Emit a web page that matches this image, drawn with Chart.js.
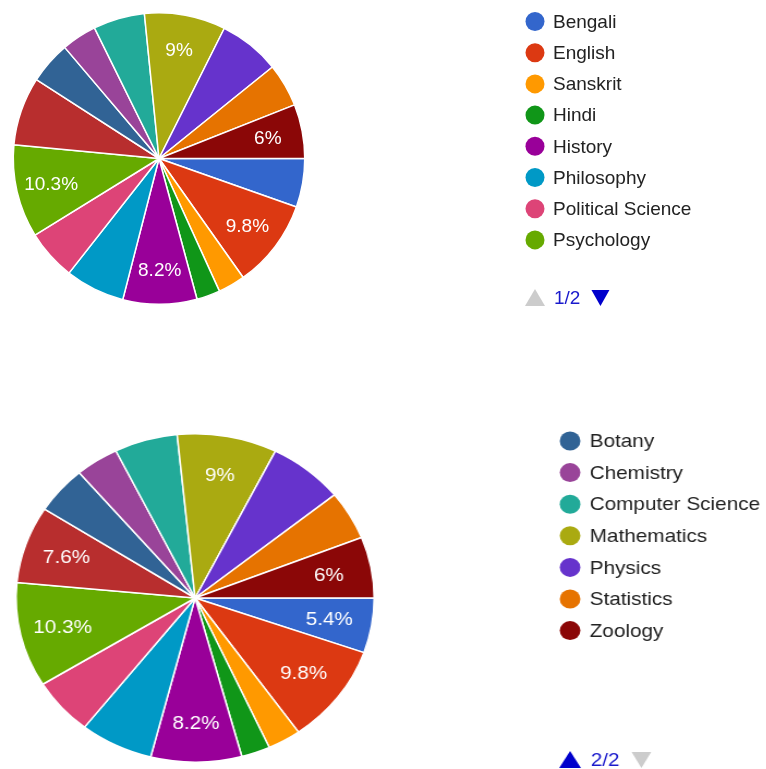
<!DOCTYPE html>
<html>
<head>
<meta charset="utf-8">
<script src="https://cdn.jsdelivr.net/npm/chart.js@4.4.1/dist/chart.umd.min.js"></script>
<style>
  html, body { margin: 0; padding: 0; background: #fff; }
  body { width: 766px; height: 769px; position: relative; overflow: hidden; }
  #top-chart { position: absolute; left: 0; top: 0; }
  #bottom-wrap { position: absolute; left: 0; top: 400px; width: 703px; height: 369px;
                 transform: scaleX(1.09); transform-origin: 0 0; }
</style>
</head>
<body>
<canvas id="top-chart" width="766" height="400"></canvas>
<div id="bottom-wrap"><canvas id="bottom-chart" width="703" height="369"></canvas></div>
<script>
// subjects, clockwise from 3 o'clock (the 9th slice has no legend entry)
const subjects = [
  'Bengali', 'English', 'Sanskrit', 'Hindi', 'History', 'Philosophy',
  'Political Science', 'Psychology', '', 'Botany', 'Chemistry',
  'Computer Science', 'Mathematics', 'Physics', 'Statistics', 'Zoology'
];
const shares = [5.4, 9.8, 3.0, 2.6, 8.2, 6.6, 5.6, 10.3, 7.6, 4.7, 3.9, 5.7, 9.0, 6.8, 4.8, 6.0];
const sliceColors = [
  '#3366cc', '#dc3912', '#ff9900', '#109618', '#990099', '#0099c6', '#dd4477', '#66aa00',
  '#b82e2e', '#316395', '#994499', '#22aa99', '#aaaa11', '#6633cc', '#e67300', '#8b0707'
];
const legendPage1 = [0, 1, 2, 3, 4, 5, 6, 7];
const legendPage2 = [9, 10, 11, 12, 13, 14, 15];
// slices that carry a percentage label in each chart
const labelledTop = ['English', 'History', 'Psychology', 'Mathematics', 'Zoology'];
const labelledBottom = ['Bengali', 'English', 'History', 'Psychology', '', 'Mathematics', 'Zoology'];

const FONT = '"Liberation Sans", Arial, sans-serif';

const sliceLabels = {
  id: 'sliceLabels',
  afterDatasetsDraw(chart, args, opts) {
    const ctx = chart.ctx;
    const data = chart.data.datasets[0].data;
    const total = data.reduce((a, b) => a + b, 0);
    ctx.save();
    ctx.font = '19px ' + FONT;
    ctx.fillStyle = '#ffffff';
    ctx.textAlign = 'center';
    ctx.textBaseline = 'middle';
    chart.getDatasetMeta(0).data.forEach((arc, i) => {
      if (!opts.show.includes(chart.data.labels[i])) return;
      const p = arc.getProps(['x', 'y', 'startAngle', 'endAngle', 'outerRadius'], true);
      const mid = (p.startAngle + p.endAngle) / 2;
      const r = p.outerRadius * 0.76;
      const pct = +(data[i] / total * 100).toFixed(1);
      ctx.fillText(pct + '%', p.x + Math.cos(mid) * r, p.y + Math.sin(mid) * r + 1);
    });
    ctx.restore();
  }
};

const pagedLegend = {
  id: 'pagedLegend',
  afterDraw(chart, args, opts) {
    const ctx = chart.ctx;
    const colors = chart.data.datasets[0].backgroundColor;
    ctx.save();
    ctx.font = '19px ' + FONT;
    ctx.textBaseline = 'middle';
    opts.items.forEach((idx, i) => {
      const y = opts.top + i * opts.step;
      ctx.fillStyle = colors[idx];
      ctx.beginPath();
      ctx.arc(opts.x, y, 9.5, 0, Math.PI * 2);
      ctx.fill();
      ctx.fillStyle = '#222222';
      ctx.fillText(chart.data.labels[idx], opts.x + 18, y + 1);
    });
    // pager: up arrow, page text, down arrow
    const py = opts.pagerY;
    const ax = opts.x - 10;
    ctx.fillStyle = opts.page === 1 ? '#cccccc' : '#0000cc';
    ctx.beginPath();
    ctx.moveTo(ax, py + 8); ctx.lineTo(ax + 20, py + 8); ctx.lineTo(ax + 10, py - 9);
    ctx.closePath(); ctx.fill();
    ctx.fillStyle = '#1a1acc';
    const txt = opts.page + '/2';
    ctx.fillText(txt, opts.x + 19, py + 1);
    const dx = opts.x + 19 + ctx.measureText(txt).width + 11;
    ctx.fillStyle = opts.page === 2 ? '#cccccc' : '#0000cc';
    ctx.beginPath();
    ctx.moveTo(dx, py - 8); ctx.lineTo(dx + 18, py - 8); ctx.lineTo(dx + 9, py + 8);
    ctx.closePath(); ctx.fill();
    ctx.restore();
  }
};

function makePie(canvasId, padding, labelled, legend) {
  return new Chart(document.getElementById(canvasId), {
    type: 'pie',
    data: {
      labels: subjects,
      datasets: [{
        data: shares,
        backgroundColor: sliceColors,
        borderColor: '#ffffff',
        borderWidth: 1.5
      }]
    },
    options: {
      responsive: false,
      animation: false,
      rotation: 90,
      layout: { padding },
      plugins: {
        legend: { display: false },
        tooltip: { enabled: false },
        sliceLabels: { show: labelled },
        pagedLegend: legend
      }
    },
    plugins: [sliceLabels, pagedLegend]
  });
}

makePie('top-chart', { left: 12, top: 12, right: 460, bottom: 95 }, labelledTop,
  { items: legendPage1, x: 535, top: 21.5, step: 31.2, pagerY: 298, page: 1 });

makePie('bottom-chart', { left: 14, top: 33, right: 359, bottom: 6 }, labelledBottom,
  { items: legendPage2, x: 523, top: 41, step: 31.6, pagerY: 360, page: 2 });
</script>
</body>
</html>
